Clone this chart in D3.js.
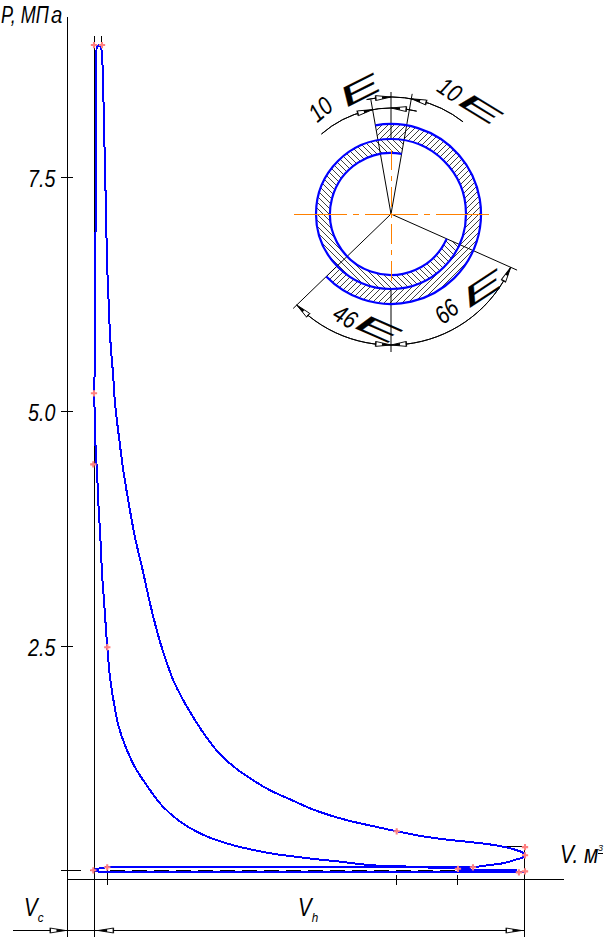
<!DOCTYPE html>
<html><head><meta charset="utf-8">
<script src="https://cdn.jsdelivr.net/npm/d3@7"></script>
<style>html,body{margin:0;padding:0;background:#fff}svg{display:block}text{font-family:"Liberation Sans",Arial,sans-serif;font-style:italic;fill:#000}</style>
</head><body><svg id="c" width="614" height="947"></svg>
<script>
// Indicator diagram: V in units of Vc (Vc = 1, Va = 17.2), P in MPa
const expansionV=[1.21,1.286,1.323,1.361,1.398,1.436,1.474,1.511,1.549,1.586,1.624,1.662,1.711,1.786,1.936,2.098,2.301,2.538,2.827,3.102,3.429,3.703,3.977,4.353,4.729,5.169,5.669,6.233,6.861,7.613,8.365,9.117,9.868,10.62,11.56,12.376,13.365,14.38,15.395,16.259,16.898,17.162,17.2];
const expansionP=[8.913,8.854,8.609,8.236,7.735,7.276,6.743,6.402,6.157,5.89,5.709,5.57,5.41,5.091,4.728,4.376,4.025,3.662,3.31,2.958,2.596,2.351,2.138,1.924,1.743,1.551,1.37,1.221,1.093,0.965,0.869,0.773,0.698,0.638,0.578,0.528,0.474,0.435,0.405,0.371,0.325,0.293,0.272];
const compressionV=[17.2,17.124,16.898,16.372,15.771,15.244,14.643,12.5,11.485,10.733,10.132,9.38,8.741,7.865,6.861,5.857,4.981,4.165,3.541,2.977,2.538,2.162,1.91,1.748,1.598,1.496,1.398,1.323,1.286,1.222,1.173,1.147,1.098,1.045,1.023,0.996,1.023,1.041,1.071,1.09,1.109,1.21];
const compressionP=[0.272,0.251,0.229,0.187,0.165,0.144,0.133,0.155,0.165,0.187,0.208,0.229,0.251,0.283,0.336,0.41,0.506,0.645,0.805,1.018,1.21,1.445,1.658,1.892,2.17,2.489,2.884,3.172,3.342,3.737,3.95,4.131,4.408,4.696,4.995,5.197,5.442,6.423,7.649,8.747,8.886,8.913];
const exhaustV=[0.97,1.109,1.474,15.244];
const exhaustP=[0.115,0.128,0.144,0.144];
const intakeV=[0.97,1.222,17.2];
const intakeP=[0.115,0.094,0.096];
const overlapV=[14.68,16.9];
const overlapP=[0.11,0.11];
const markerV=[0.996,1.297,0.996,0.97,1.496,12.376,14.68,15.244,17.2,17.2,16.97,17.2,1.494,0.97];
const markerP=[8.91,8.91,5.197,4.44,2.49,0.528,0.128,0.144,0.359,0.272,0.09,0.1,0.144,0.112];
const pTicks=[2.5,5.0,7.5];
const pTickLabels=["2.5","5.0","7.5"];
const vTicks=[1.494,12.376,14.68];
// Valve timing diagram (degrees of crank angle from top, clockwise)
const ringRadii=[90,75,61];
const outerSpan=[-10,226];
const innerSpan=[114,370];
const timingRays=[{a:-10,r:116},{a:10,r:122},{a:114,r:138},{a:226,r:136}];
const timingLabels=["10","10","46","66"];

const svg=d3.select("#c");
const x=d3.scaleLinear().domain([0,17.2]).range([67.5,525]);
const y=d3.scaleLinear().domain([0,9]).range([880.8,36.6]);
const BLUE="#0000ff";
const line=d3.line().x(d=>x(d[0])).y(d=>y(d[1]));
const smooth=d3.line().x(d=>x(d[0])).y(d=>y(d[1])).curve(d3.curveCatmullRom.alpha(0.5));
const zip=(a,b)=>a.map((v,i)=>[v,b[i]]);
const blk=(g,a,b,c,d,w)=>g.append("line").attr("x1",a).attr("y1",b).attr("x2",c).attr("y2",d).attr("stroke","#000").attr("stroke-width",w||1).attr("shape-rendering","crispEdges");

function label(g,str,px,py,size,sx){
  return g.append("text").attr("transform",`translate(${px},${py}) scale(${sx},1)`).attr("font-size",size).text(str);
}
function arrowShape(g,tx,ty,deg){
  const a=g.append("g").attr("transform",`translate(${tx},${ty}) rotate(${deg})`);
  a.append("path").attr("d","M0,0L15,-2.4L15,2.4Z").attr("fill","#fff").attr("stroke","#000").attr("stroke-width",0.9);
  a.append("path").attr("d","M0,0L9,-1.5L9,1.5Z").attr("fill","#000");
  a.append("path").attr("d","M15.5,-2.8V2.8").attr("stroke","#000").attr("stroke-width",0.9);
}

// frame lines
const ax=svg.append("g");
blk(ax,x(0),17,x(0),937);
blk(ax,x(1)+.5,36,x(1)+.5,937);
blk(ax,101.5,36,101.5,46);
blk(ax,x(0),879.5,564,879.5);
blk(ax,13,930.5,x(17.2)-.5,930.5);
blk(ax,x(17.2)-.5,847,x(17.2)-.5,937);
blk(ax,503,846.5,x(17.2),846.5);
blk(ax,61,y(0.11),81,y(0.11));
blk(ax,90,y(0.11),98,y(0.11));
ax.append("line").attr("x1",x(1.6)).attr("x2",x(15.25)).attr("y1",y(0.107)).attr("y2",y(0.107)).attr("stroke","#000").attr("stroke-width",1.4).attr("stroke-dasharray","14.5,7.5").attr("shape-rendering","crispEdges");
pTicks.forEach((p,i)=>{
  blk(ax,61,y(p),73,y(p));
  label(ax,pTickLabels[i],28,y(p)+9.5,24,0.82);
});
vTicks.forEach((v,i)=>blk(ax,x(v),i?875:865,x(v),885));

// arrows of the Vc, Vh dimension
arrowShape(ax,x(0)-2,930.5,180);
arrowShape(ax,x(1)+4,930.5,0);
arrowShape(ax,x(17.2)-3.5,930.5,180);

// cycle
const cyc=svg.append("g").attr("fill","none").attr("stroke",BLUE).attr("stroke-width",2).attr("shape-rendering","crispEdges");
cyc.append("path").attr("d",smooth(zip(expansionV,expansionP)));
cyc.append("path").attr("d",smooth(zip(compressionV,compressionP)));
cyc.append("path").attr("d",line(zip(exhaustV,exhaustP)));
cyc.append("path").attr("d",line(zip(intakeV,intakeP)));
cyc.append("path").attr("d",line(zip(overlapV,overlapP))).attr("stroke-width",3);

// markers
svg.append("g").selectAll("path").data(zip(markerV,markerP)).join("path")
  .attr("transform",d=>`translate(${x(d[0])},${y(d[1])})`)
  .attr("d",d3.symbol(d3.symbolCross,22)).attr("fill","#ff8080");

// axis labels
const T=svg.append("g");
label(T,"P, МП",1,23,24,0.75);
label(T,"а",51,23,24,0.85);
label(T,"V. м",560,863,25,0.84);
label(T,"3",598,851,9,1);
blk(T,598,853,603,853);
label(T,"V",24,916,25,0.82);
label(T,"c",37.8,922,13,.9);
label(T,"V",298,916,25,0.82);
label(T,"h",311.8,922,13,.9);

// timing diagram
const cx=391,cy=214,rad=d3.scaleLinear().domain([0,180]).range([0,Math.PI]);
const defs=svg.append("defs");
const D=svg.append("g").attr("transform",`translate(${cx},${cy})`);
const arc=d3.arc();
const band=(r0,r1,s)=>arc({innerRadius:r0,outerRadius:r1,startAngle:rad(s[0]),endAngle:rad(s[1])});
// hatching: real clipped lines
function hatch(id,pathD,sign){
  defs.append("clipPath").attr("id",id).append("path").attr("d",pathD);
  D.append("g").attr("clip-path",`url(#${id})`).attr("stroke","#000").attr("stroke-width",.75)
   .selectAll("line").data(d3.range(-200,200,6)).join("line")
   .attr("x1",d=>d-100).attr("y1",sign*100).attr("x2",d=>d+100).attr("y2",-sign*100);
}
hatch("hatchA",band(ringRadii[1],ringRadii[0],outerSpan),1);
hatch("hatchB",band(ringRadii[2],ringRadii[1],innerSpan),-1);
const pol=(r,a)=>[r*Math.sin(rad(a)),-r*Math.cos(rad(a))];
timingRays.forEach(t=>{
  const p=pol(t.r,t.a);
  D.append("line").attr("x1",0).attr("y1",0).attr("x2",p[0]).attr("y2",p[1]).attr("stroke","#000").attr("stroke-width",1);
});
D.append("line").attr("y1",-122).attr("y2",-76).attr("stroke","#000");
D.append("line").attr("y1",74).attr("y2",138).attr("stroke","#000");
const dim=(r,a0,a1)=>D.append("path").attr("fill","none").attr("stroke","#000").attr("stroke-width",1)
  .attr("d",d3.arc()({innerRadius:r,outerRadius:r,startAngle:rad(a0),endAngle:rad(a1)}));
dim(106,-41,14); dim(117,-12,38); dim(131,114,226);
const arcArrow=(r,a,dir)=>{ // dir=+1: tail is clockwise of tip
  const p=pol(r,a);
  arrowShape(D,p[0],p[1],a+(dir>0?0:180)+dir*4);
};
arcArrow(106,-10,-1);arcArrow(106,0,1);arcArrow(117,0,-1);arcArrow(117,10,1);
arcArrow(131,180,-1);arcArrow(131,180,1);arcArrow(131,226,-1);arcArrow(131,114,1);

// ring outlines
const R=D.append("g").attr("fill","none").attr("stroke",BLUE).attr("stroke-width",2.2);
R.append("path").attr("d",d3.arc()({innerRadius:ringRadii[0],outerRadius:ringRadii[0],startAngle:rad(outerSpan[0]),endAngle:rad(outerSpan[1])}));
R.append("circle").attr("r",ringRadii[1]);
R.append("path").attr("d",d3.arc()({innerRadius:ringRadii[2],outerRadius:ringRadii[2],startAngle:rad(innerSpan[0]),endAngle:rad(innerSpan[1])}));

// centre lines
const O=svg.append("g").attr("stroke","#ff8000").attr("shape-rendering","crispEdges");
O.append("line").attr("x1",294).attr("x2",489).attr("y1",cy).attr("y2",cy).attr("stroke-width",1).attr("stroke-dasharray","52.5,6,6,6.5");
O.append("line").attr("x1",cx).attr("x2",cx).attr("y1",150).attr("y2",287).attr("stroke-width",1).attr("stroke-dasharray","20,6,5,6");

// duration labels
const L=svg.append("g");
const numLab=[[326,116,-40],[445,97,34],[341,324,30],[452,318,-40]];
numLab.forEach((n,i)=>L.append("text").attr("text-anchor","middle").attr("font-size",25)
  .attr("transform",`translate(${n[0]},${n[1]}) rotate(${n[2]}) scale(.82,1)`).text(timingLabels[i]));
const F=20,W=.53*F,H=.716*F,BX=.08*F;
const epsLab=[[348.3,106.7,30,-15,-5,-20],[458.3,105,30,18.3,16.7,-10],[355,328.3,32,14,16.7,-12.3],[470,308,29,-19,-1.7,-21.7]];
epsLab.forEach(e=>{
  const a=e[2]/W,b=e[3]/W;
  L.append("text").attr("font-size",F).style("font-style","normal").attr("stroke","#000").attr("stroke-width",.1)
  .attr("transform",`matrix(${a},${b},${-e[4]/H},${-e[5]/H},${e[0]-a*BX},${e[1]-b*BX})`).text("E");
});
</script></body></html>
